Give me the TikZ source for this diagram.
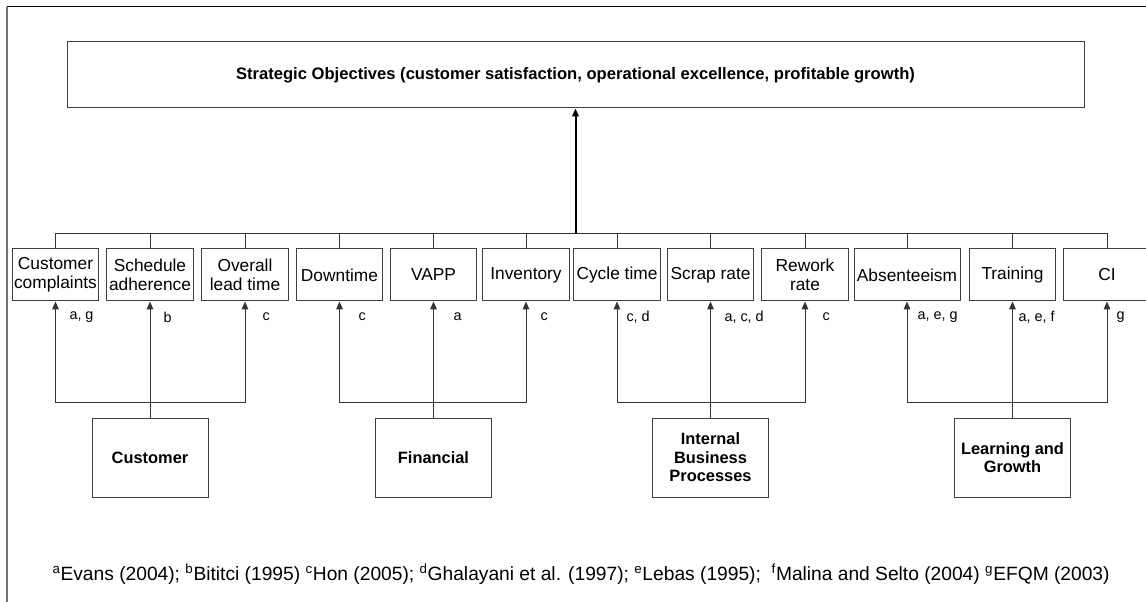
\documentclass[tikz,border=0pt]{standalone}
\usepackage{fontspec}
\setmainfont{Liberation Sans}
\usetikzlibrary{positioning, arrows, arrows.meta}

\tikzset{
  goalbox/.style = {shape = rectangle, draw = black!75, minimum width = 762.75pt, minimum height = 49.5pt, font = \fontsize{12.45}{14}\selectfont\bfseries},
  kpibox/.style = {shape = rectangle, draw = black!75, minimum width = 65pt, minimum height = 39pt, inner sep = 1pt, align = center, font = \fontsize{13}{14.3}\selectfont},
  viewbox/.style = {shape = rectangle, draw = black!75, minimum width = 87pt, minimum height = 59.25pt, inner sep = 1pt, align = center, font = \fontsize{12.3}{13.8}\selectfont\bfseries},
  ref/.style = {anchor = west, inner sep = 0pt, font = \fontsize{10.8}{12}\selectfont},
}

\begin{document}
\begin{tikzpicture}[x = 0.75pt, y = -0.75pt, >={Triangle[length = 6pt, width = 5pt]}, line width = 0.75pt, draw = black!80]
            \useasboundingbox (0, 0) rectangle (1146, 602);
            \draw [black!55, line width = 1.5pt] (7, 602) -- (7, 7);
            \draw [black] (7, 7) -- (1146, 7);

            \node [goalbox] (goal) at (575.5, 75) {Strategic Objectives (customer satisfaction, operational excellence, profitable growth)};

            \node [kpibox] (complaints) at (55.5, 275) {Customer\\complaints};
            \node [kpibox] (schedule) at (150, 275) {Schedule\\adherence};
            \node [kpibox] (leadtime) at (245, 275) {Overall\\lead time};
            \node [kpibox] (downtime) at (339.5, 275) {Downtime};
            \node [kpibox] (vapp) at (433.5, 275) {VAPP};
            \node [kpibox] (inventory) at (526, 275) {Inventory};
            \node [kpibox] (cycle) at (617, 275) {Cycle time};
            \node [kpibox] (scrap) at (710.5, 275) {Scrap rate};
            \node [kpibox] (rework) at (805, 275) {Rework\\rate};
            \node [kpibox, minimum width = 79.5pt] (absent) at (907, 275) {Absenteeism};
            \node [kpibox] (training) at (1012.5, 275) {Training};
            \node [kpibox] (ci) at (1107, 275) {CI};

            \node [viewbox] (customer) at (150, 457.5) {Customer};
            \node [viewbox] (financial) at (433.5, 457.5) {Financial};
            \node [viewbox] (internal) at (710.5, 457.5) {Internal\\Business\\Processes};
            \node [viewbox] (learning) at (1012.5, 457.5) {Learning and\\Growth};

            \coordinate (bus) at (575.5, 234);
            \coordinate (custbus) at (150, 402);
            \coordinate (finbus) at (433.5, 402);
            \coordinate (intbus) at (710.5, 402);
            \coordinate (learnbus) at (1012.5, 402);

            % upper bus to the objectives
            \draw (complaints.north) -- (complaints.north |- bus) -- (ci.north |- bus) -- (ci.north);
            \draw (schedule.north) -- (schedule.north |- bus);
            \draw (leadtime.north) -- (leadtime.north |- bus);
            \draw (downtime.north) -- (downtime.north |- bus);
            \draw (vapp.north) -- (vapp.north |- bus);
            \draw (inventory.north) -- (inventory.north |- bus);
            \draw (cycle.north) -- (cycle.north |- bus);
            \draw (scrap.north) -- (scrap.north |- bus);
            \draw (rework.north) -- (rework.north |- bus);
            \draw (absent.north) -- (absent.north |- bus);
            \draw (training.north) -- (training.north |- bus);
            \draw [->, black, line width = 1.5pt] (bus) -- (goal.south);

            % perspectives to measures
            \draw [->] (customer.north) -- (schedule.south);
            \draw [->] (custbus) -| (complaints.south);
            \draw [->] (custbus) -| (leadtime.south);
            \draw [->] (financial.north) -- (vapp.south);
            \draw [->] (finbus) -| (downtime.south);
            \draw [->] (finbus) -| (inventory.south);
            \draw [->] (internal.north) -- (scrap.south);
            \draw [->] (intbus) -| (cycle.south);
            \draw [->] (intbus) -| (rework.south);
            \draw [->] (learning.north) -- (training.south);
            \draw [->] (learnbus) -| (absent.south);
            \draw [->] (learnbus) -| (ci.south);

            \node [ref] (rcomplaints) at (69, 317) {a, g};
            \node [ref] (rschedule) at (163, 317) {b};
            \node [ref] (rleadtime) at (262, 317) {c};
            \node [ref] (rdowntime) at (358, 317) {c};
            \node [ref] (rvapp) at (453, 317) {a};
            \node [ref] (rinventory) at (540, 317) {c};
            \node [ref] (rcycle) at (626, 317) {c, d};
            \node [ref] (rscrap) at (724, 317) {a, c, d};
            \node [ref] (rrework) at (822, 317) {c};
            \node [ref] (rabsent) at (917, 317) {a, e, g};
            \node [ref] (rtraining) at (1018, 317) {a, e, f};
            \node [ref] (rci) at (1116, 317) {g};

            \node [anchor = west, inner sep = 0pt, font = \fontsize{14.4}{16}\selectfont] (sources) at (52, 574) {\textsuperscript{a}Evans (2004); \textsuperscript{b}Bititci (1995) \textsuperscript{c}Hon (2005); \textsuperscript{d}Ghalayani et al. (1997); \textsuperscript{e}Lebas (1995); \ \textsuperscript{f}Malina and Selto (2004) \textsuperscript{g}EFQM (2003)};
        \end{tikzpicture}
\end{document}
